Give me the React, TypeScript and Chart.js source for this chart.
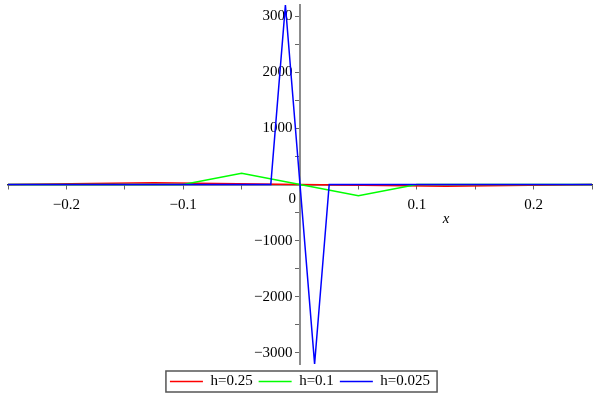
import { useEffect, useRef } from "react"
import { Chart, registerables } from "chart.js"

Chart.register(...registerables)

// series data
const seriesNames = ["h=0.25", "h=0.1", "h=0.025"]
const seriesColors = ["#ff0000", "#00ff00", "#0000ff"]

const redX = [-0.25, -0.125, 0, 0.125, 0.25]
const redY = [0, 32, 0, -32, 0]

const greenX = [-0.25, -0.1, -0.05, 0, 0.05, 0.1, 0.25]
const greenY = [0, 0, 200, 0, -200, 0, 0]

const blueX = [-0.25, -0.025, -0.0125, 0, 0.0125, 0.025, 0.25]
const blueY = [0, 0, 3200, 0, -3200, 0, 0]

const xRange = [-0.25, 0.25]
const yRange = [-3200, 3200]

// tick marks; labels only on the multiples of 0.1 / 1000
const xTickValues = [-0.25, -0.2, -0.15, -0.1, -0.05, 0, 0.05, 0.1, 0.15, 0.2, 0.25]
const yTickValues = [-3000, -2500, -2000, -1500, -1000, -500, 0, 500, 1000, 1500, 2000, 2500, 3000]

const FONT = "'Liberation Serif', 'Times New Roman', serif"

const toPoints = (xs: number[], ys: number[]) => xs.map((x, i) => ({ x, y: ys[i] }))

const minus = (s: string) => s.replace("-", "\u2212")

// draws the shared "0", the axis title and the frame round the legend
const extrasPlugin = {
  id: "extras",
  afterDraw(chart: Chart) {
    const ctx = chart.ctx
    const xs = chart.scales.x
    const ys = chart.scales.y
    const x0 = xs.getPixelForValue(0)
    const y0 = ys.getPixelForValue(0)
    ctx.save()
    ctx.fillStyle = "#000"
    ctx.font = `15px ${FONT}`
    ctx.textAlign = "right"
    ctx.textBaseline = "middle"
    ctx.fillText("0", x0 - 4, y0 + 15)
    ctx.font = `italic 15px ${FONT}`
    ctx.textAlign = "center"
    ctx.fillText("x", xs.getPixelForValue(0.125), y0 + 35)

    const boxes = chart.legend?.legendHitBoxes ?? []
    if (boxes.length) {
      const left = Math.min(...boxes.map((b) => b.left)) - 4
      const right = Math.max(...boxes.map((b) => b.left + b.width)) + 7
      const top = Math.min(...boxes.map((b) => b.top)) - 3
      const bottom = Math.max(...boxes.map((b) => b.top + b.height)) + 3
      ctx.strokeStyle = "#555"
      ctx.lineWidth = 1.5
      ctx.strokeRect(left, top, right - left, bottom - top)
    }
    ctx.restore()
  },
}

export default function App() {
  const chartRef = useRef<HTMLCanvasElement>(null)
  const chartInstance = useRef<Chart | null>(null)

  useEffect(() => {
    if (!chartRef.current) return
    if (chartInstance.current) chartInstance.current.destroy()

    const ctx = chartRef.current.getContext("2d")
    if (!ctx) return

    const allX = [redX, greenX, blueX]
    const allY = [redY, greenY, blueY]

    chartInstance.current = new Chart(ctx, {
      type: "scatter",
      data: {
        datasets: seriesNames.map((name, i) => ({
          label: name,
          data: toPoints(allX[i], allY[i]),
          showLine: true,
          borderColor: seriesColors[i],
          backgroundColor: seriesColors[i],
          borderWidth: 1.5,
          pointRadius: 0,
          order: 3 - i,
          clip: 3,
        })),
      },
      options: {
        animation: false,
        responsive: true,
        maintainAspectRatio: false,
        layout: { padding: { left: 7, right: 7, top: 5, bottom: 1 } },
        plugins: {
          tooltip: { enabled: false },
          legend: {
            position: "bottom",
            // empty title only pushes the legend row down a little
            title: { display: true, text: "", font: { size: 1 }, padding: { top: 2.8, bottom: 0 } },
            labels: {
              usePointStyle: true,
              pointStyle: "line",
              pointStyleWidth: 33,
              padding: 6,
              color: "#000",
              font: { family: FONT, size: 15 },
              sort: (a, b) => (a.datasetIndex ?? 0) - (b.datasetIndex ?? 0),
            },
          },
        },
        scales: {
          x: {
            type: "linear",
            min: xRange[0],
            max: xRange[1],
            position: { y: 0 },
            afterBuildTicks: (axis) => {
              axis.ticks = xTickValues.map((value) => ({ value }))
            },
            border: { color: "#333", width: 1.5 },
            grid: { drawOnChartArea: false, tickLength: 4, tickColor: "#666" },
            ticks: {
              padding: 8,
              maxRotation: 0,
              autoSkip: false,
              color: "#000",
              font: { family: FONT, size: 15 },
              callback: (v) => {
                const n = Math.round(Number(v) * 100)
                if (n === 0 || n % 10 !== 0) return ""
                return minus(String(n / 100))
              },
            },
          },
          y: {
            type: "linear",
            min: yRange[0],
            max: yRange[1],
            position: { x: 0 },
            afterBuildTicks: (axis) => {
              axis.ticks = yTickValues.map((value) => ({ value }))
            },
            border: { color: "#8c8c8c", width: 2 },
            grid: { drawOnChartArea: false, tickLength: 4, tickColor: "#666" },
            ticks: {
              // negative padding stops the end labels from shrinking the plot
              padding: -9,
              autoSkip: false,
              color: "#000",
              font: { family: FONT, size: 15 },
              // centred axes put labels flush on the line, the en space keeps a gap
              callback: (v) => {
                const n = Number(v)
                if (n === 0 || n % 1000 !== 0) return ""
                return minus(String(n)) + "\u2002"
              },
            },
          },
        },
      },
      plugins: [extrasPlugin],
    })

    return () => {
      if (chartInstance.current) {
        chartInstance.current.destroy()
        chartInstance.current = null
      }
    }
  }, [])

  return (
    <div style={{ position: "absolute", left: 0, top: 0, width: 600, height: 400, background: "#fff" }}>
      <canvas ref={chartRef} />
    </div>
  )
}
